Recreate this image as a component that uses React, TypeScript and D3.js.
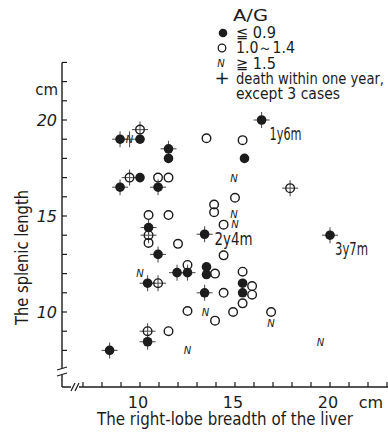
import React from "react";
import * as d3 from "d3";

// A/G <= 0.9 (filled circles): [breadth, splenic length, death within one year]
const lowAG: [number, number, boolean][] = [
  [8.95, 19.0, true], [10.0, 19.0, false], [11.5, 18.5, true], [11.5, 18.0, false],
  [10.0, 17.0, false], [8.95, 16.5, true], [10.95, 16.5, true], [16.4, 20.0, true],
  [15.5, 18.0, false], [10.45, 14.4, true], [10.95, 13.0, true], [13.4, 14.05, true],
  [20.0, 14.0, true], [11.95, 12.05, true], [12.5, 12.05, true], [13.5, 12.35, false],
  [13.5, 11.95, false], [10.4, 11.5, true], [13.4, 11.0, true], [15.4, 11.5, false],
  [15.4, 11.0, false], [10.4, 8.45, true], [8.4, 8.0, true],
];

// A/G 1.0 ~ 1.4 (open circles)
const midAG: [number, number, boolean][] = [
  [10.0, 19.5, true], [9.45, 17.0, true], [10.95, 17.0, false], [11.5, 17.0, false],
  [13.5, 19.05, false], [15.4, 18.95, false], [17.9, 16.45, true], [15.0, 15.95, false],
  [13.9, 15.6, false], [13.9, 15.2, false], [14.4, 14.55, false], [14.4, 12.95, false],
  [10.45, 15.05, false], [11.5, 15.05, false], [10.45, 14.0, true], [10.45, 13.6, false],
  [12.0, 13.55, false], [12.5, 12.45, false], [13.95, 12.0, false], [10.95, 11.5, true],
  [14.4, 11.0, false], [15.4, 12.1, false], [15.9, 11.35, false], [15.9, 10.9, false],
  [15.4, 10.45, false], [12.5, 10.05, false], [13.95, 9.55, false], [14.9, 10.0, false],
  [16.9, 10.0, false], [10.4, 9.0, true], [11.5, 9.0, false],
];

// A/G >= 1.5 (N marks)
const highAG: [number, number, boolean][] = [
  [9.45, 19.0, true], [14.95, 17.0, false], [14.95, 15.1, false], [15.0, 14.6, false],
  [10.0, 12.05, false], [13.45, 10.0, false], [16.9, 9.45, false], [19.5, 8.45, false],
  [12.5, 8.0, false],
];

// survival annotations for the 3 excepted cases
const notes = [
  { x: 16.4, y: 20.0, text: "1y6m", dx: 8, dy: 20, w: 32 },
  { x: 13.4, y: 14.05, text: "2y4m", dx: 10, dy: 11, w: 38 },
  { x: 20.0, y: 14.0, text: "3y7m", dx: 5, dy: 20, w: 33 },
];

const xLabels = [10, 15, 20];
const yLabels = [10, 15, 20];
const xTickVals = d3.range(7, 24);
const yTickVals = d3.range(8, 24);

const INK = "#1c1c1c";
const FONT = "'DejaVu Sans', sans-serif";

export default function App() {
  const x = d3.scaleLinear().domain([10, 20]).range([140, 330]);
  const y = d3.scaleLinear().domain([10, 20]).range([312, 120]);
  const axisX = 62;
  const axisY = 387;
  const top = y(23);

  const cross = (cx: number, cy: number, key: string) => (
    <g key={key} stroke="#555" strokeWidth={1.1}>
      <line x1={cx - 8} x2={cx + 8} y1={cy} y2={cy} />
      <line x1={cx} x2={cx} y1={cy - 8} y2={cy + 8} />
    </g>
  );

  return (
    <svg
      width={388}
      height={433}
      style={{ position: "absolute", left: 0, top: 0, background: "#fff" }}
      fontFamily={FONT}
    >
      <rect width={388} height={433} fill="#fff" />

      {/* y axis */}
      <line x1={axisX} x2={axisX} y1={top} y2={axisY} stroke={INK} strokeWidth={1.4} />
      {yTickVals.map((t) => (
        <line key={"yt" + t} x1={axisX} x2={axisX + 5} y1={y(t)} y2={y(t)} stroke={INK} strokeWidth={1.2} />
      ))}
      {yLabels.map((t) => (
        <text key={"yl" + t} x={57} y={y(t) + 6} textAnchor="end" fontSize={16} fill={INK} fontStyle="italic">
          {t}
        </text>
      ))}
      <text x={58} y={95} textAnchor="end" fontSize={15} fill={INK}>cm</text>
      {/* y break */}
      <rect x={axisX - 2} y={369} width={4} height={6} fill="#fff" />
      <line x1={57} x2={67} y1={370} y2={367} stroke={INK} strokeWidth={1.2} />
      <line x1={57} x2={67} y1={376} y2={373} stroke={INK} strokeWidth={1.2} />

      {/* x axis */}
      <line x1={axisX} x2={388} y1={axisY} y2={axisY} stroke={INK} strokeWidth={1.4} />
      {xTickVals.map((t) => (
        <line key={"xt" + t} x1={x(t)} x2={x(t)} y1={axisY} y2={axisY - 5} stroke={INK} strokeWidth={1.2} />
      ))}
      {xLabels.map((t) => (
        <text key={"xl" + t} x={x(t) - 2} y={408} textAnchor="middle" fontSize={16} fill={INK}>
          {t}
        </text>
      ))}
      <text x={371} y={408} textAnchor="middle" fontSize={16} fill={INK}>cm</text>
      {/* x break */}
      <rect x={71} y={axisY - 2} width={8} height={4} fill="#fff" />
      <line x1={71} x2={75} y1={391} y2={383} stroke={INK} strokeWidth={1.2} />
      <line x1={75} x2={79} y1={391} y2={383} stroke={INK} strokeWidth={1.2} />

      {/* axis titles */}
      <text x={97} y={425} fontSize={17} fill={INK} textLength={256} lengthAdjust="spacingAndGlyphs">
        The right-lobe breadth of the liver
      </text>
      <text
        transform="translate(28,325) rotate(-90)"
        x={0}
        y={0}
        fontSize={17}
        fill={INK}
        textLength={135}
        lengthAdjust="spacingAndGlyphs"
      >
        The splenic length
      </text>

      {/* crosses (death within one year) */}
      {[...lowAG, ...midAG, ...highAG]
        .filter((d) => d[2])
        .map((d, i) => cross(x(d[0]), y(d[1]), "c" + i))}

      {/* open circles */}
      {midAG.map((d, i) => (
        <circle key={"o" + i} cx={x(d[0])} cy={y(d[1])} r={4.3} fill="none" stroke={INK} strokeWidth={1.4} />
      ))}
      {/* filled circles */}
      {lowAG.map((d, i) => (
        <circle key={"f" + i} cx={x(d[0])} cy={y(d[1])} r={4.8} fill={INK} />
      ))}
      {/* N marks */}
      {highAG.map((d, i) => (
        <text
          key={"n" + i}
          x={x(d[0])}
          y={y(d[1]) + 4}
          textAnchor="middle"
          fontSize={10}
          fontStyle="italic"
          fill={INK}
        >
          N
        </text>
      ))}

      {/* annotations */}
      {notes.map((n) => (
        <text
          key={n.text}
          x={x(n.x) + n.dx}
          y={y(n.y) + n.dy}
          fontSize={17}
          fill={INK}
          textLength={n.w}
          lengthAdjust="spacingAndGlyphs"
        >
          {n.text}
        </text>
      ))}

      {/* legend */}
      <g fill={INK}>
        <text x={233} y={21} fontSize={15} textLength={35} lengthAdjust="spacingAndGlyphs">A/G</text>
        <circle cx={223} cy={33} r={4.3} />
        <text x={236} y={38} fontSize={15} textLength={40} lengthAdjust="spacingAndGlyphs">≦ 0.9</text>
        <circle cx={222} cy={48} r={3.8} fill="none" stroke={INK} strokeWidth={1.3} />
        <text x={236} y={53} fontSize={15} textLength={59} lengthAdjust="spacingAndGlyphs">1.0～1.4</text>
        <text x={221} y={67} fontSize={10} fontStyle="italic" textAnchor="middle">N</text>
        <text x={236} y={69} fontSize={15} textLength={40} lengthAdjust="spacingAndGlyphs">≧ 1.5</text>
        <text x={222} y={84} fontSize={18} textAnchor="middle">+</text>
        <text x={236} y={84} fontSize={15} textLength={148} lengthAdjust="spacingAndGlyphs">
          death within one year,
        </text>
        <text x={236} y={99} fontSize={15} textLength={104} lengthAdjust="spacingAndGlyphs">except 3 cases</text>
      </g>
    </svg>
  );
}
